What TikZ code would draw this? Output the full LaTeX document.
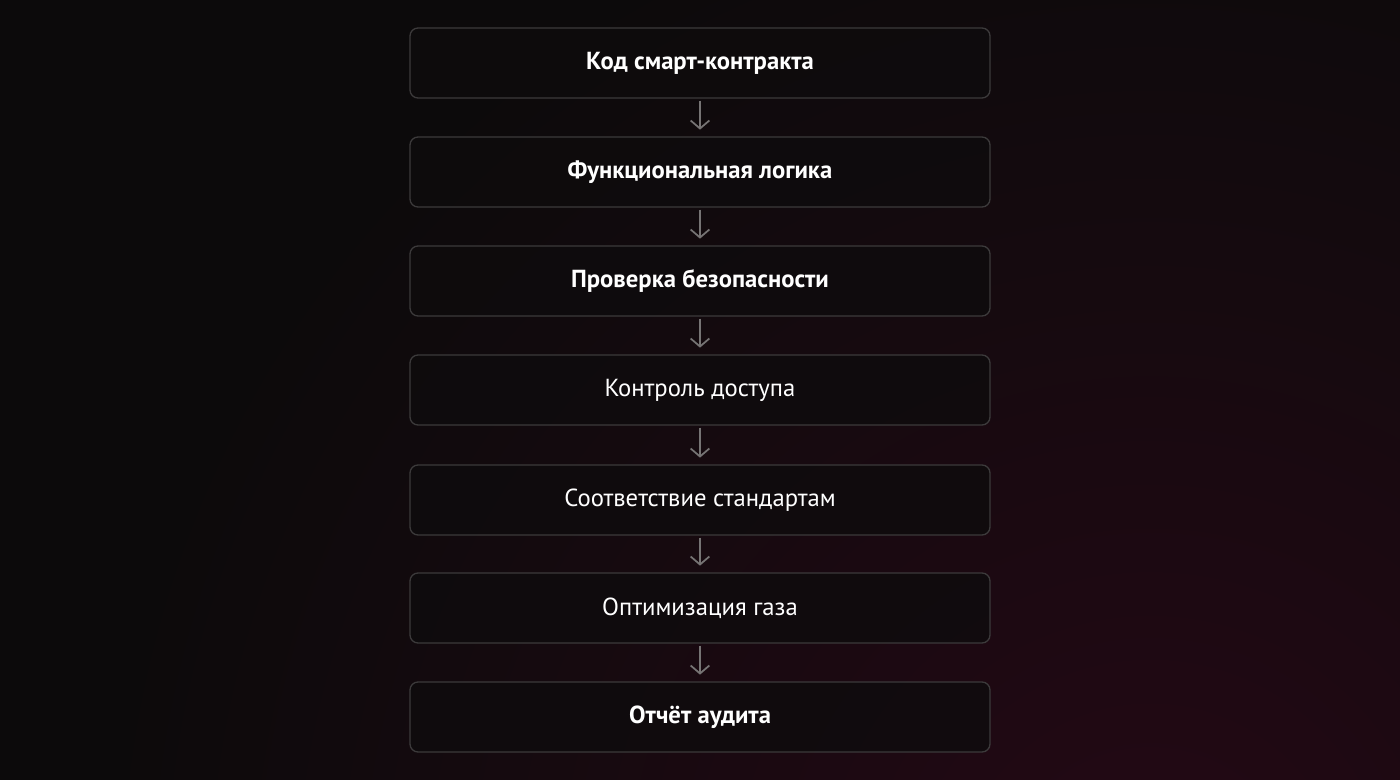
\documentclass[tikz,border=0pt]{standalone}
\usepackage{fontspec}
\setmainfont{PT Sans}
\usetikzlibrary{arrows.meta,positioning}
\definecolor{bgA}{HTML}{0C0A0B}
\definecolor{bgB}{HTML}{240915}
\definecolor{boxfill}{HTML}{0E0C0D}
\definecolor{boxline}{HTML}{3C3A3B}
\definecolor{arrowc}{HTML}{767474}
\tikzset{
  stepbox/.style={draw=boxline, line width=1pt, fill=boxfill, fill opacity=0.8, text opacity=1, rounded corners=6pt,
    minimum width=435pt, minimum height=52.5pt, inner sep=0pt,
    text=white, font=\fontsize{18.5pt}{22pt}\selectfont},
  boldbox/.style={stepbox, font=\fontsize{18.5pt}{22pt}\selectfont\bfseries},
  flow/.style={draw=arrowc, line width=1.3pt, -{Straight Barb[length=6pt,width=14pt,line width=1.3pt]}}
}
\begin{document}
\begin{tikzpicture}[x=0.75pt,y=-0.75pt]
\useasboundingbox (0,0) rectangle (1400,780);
\fill[bgA] (0,0) rectangle (1400,780);
\begin{scope}
\clip (0,0) rectangle (1400,780);
\shade[inner color=bgB, outer color=bgA] (1150,900) circle (1050);
\end{scope}
\node[boldbox] (n1) at (700,63)  {Код смарт-контракта};
\node[boldbox] (n2) at (700,172) {Функциональная логика};
\node[boldbox] (n3) at (700,281) {Проверка безопасности};
\node[stepbox] (n4) at (700,390) {Контроль доступа};
\node[stepbox] (n5) at (700,500) {Соответствие стандартам};
\node[stepbox] (n6) at (700,608) {Оптимизация газа};
\node[boldbox] (n7) at (700,717) {Отчёт аудита};
\foreach \a/\b in {n1/n2,n2/n3,n3/n4,n4/n5,n5/n6,n6/n7}{
  \draw[flow] ([yshift=-1.5pt]\a.south) -- ([yshift=5pt]\b.north);
}
\end{tikzpicture}
\end{document}
